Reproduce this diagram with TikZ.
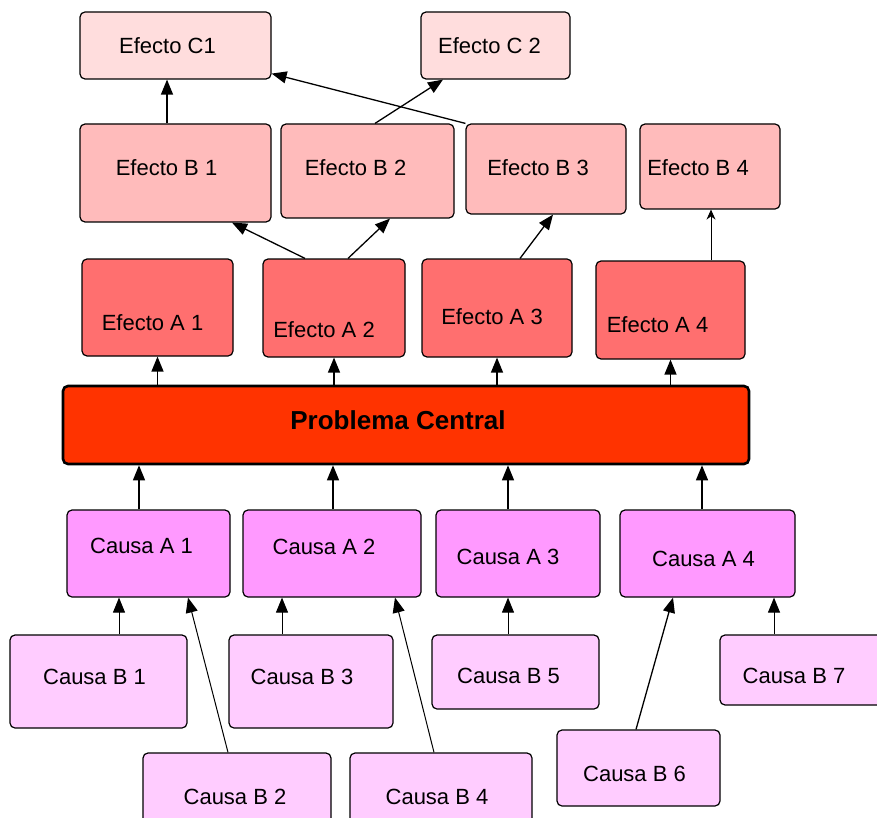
\documentclass[tikz,border=0pt]{standalone}
\usepackage{fontspec}
\setmainfont{Liberation Sans}
\usetikzlibrary{arrows.meta}
\definecolor{efC}{HTML}{FFDDDD}
\definecolor{efB}{HTML}{FFBBBB}
\definecolor{efA}{HTML}{FF6F6F}
\definecolor{probC}{HTML}{FF3300}
\definecolor{causA}{HTML}{FF99FF}
\definecolor{causB}{HTML}{FFCCFF}
\begin{document}
\begin{tikzpicture}[
    x=1pt, y=-1pt,
    box/.style={draw, line width=1.2pt, rounded corners=5pt, inner sep=0pt,
      font=\fontsize{22}{26}\selectfont},
    arr/.style={line width=1.3pt, -{Triangle[width=12pt,length=15pt]}},
    thinarr/.style={line width=1pt, -{Triangle[width=12pt,length=15pt]}},
  ]
  \clip (0,0) rectangle (877,818);
  \fill[white] (0,0) rectangle (877,818);
  % efectos C
  \node[box, fill=efC, minimum width=191, minimum height=67,
    label={[xshift=-8pt, font=\fontsize{22}{26}\selectfont]center:Efecto C1}] (ec1) at (175.5,45.5) {};
  \node[box, fill=efC, minimum width=149, minimum height=67,
    label={[xshift=-6pt, font=\fontsize{22}{26}\selectfont]center:Efecto C 2}] (ec2) at (495.5,45.5) {};
  % efectos B
  \node[box, fill=efB, minimum width=191, minimum height=98,
    label={[xshift=-9pt, yshift=5pt, font=\fontsize{22}{26}\selectfont]center:Efecto B 1}] (eb1) at (175.5,173) {};
  \node[box, fill=efB, minimum width=173, minimum height=94,
    label={[xshift=-12pt, yshift=3pt, font=\fontsize{22}{26}\selectfont]center:Efecto B 2}] (eb2) at (367.5,171) {};
  \node[box, fill=efB, minimum width=160, minimum height=90,
    label={[xshift=-8pt, yshift=1pt, font=\fontsize{22}{26}\selectfont]center:Efecto B 3}] (eb3) at (546,169) {};
  \node[box, fill=efB, minimum width=140, minimum height=85,
    label={[xshift=-12pt, yshift=-1pt, font=\fontsize{22}{26}\selectfont]center:Efecto B 4}] (eb4) at (710,166.5) {};
  % efectos A
  \node[box, fill=efA, minimum width=151, minimum height=97,
    label={[xshift=-5pt, yshift=-15pt, font=\fontsize{22}{26}\selectfont]center:Efecto A 1}] (ea1) at (157.5,307.5) {};
  \node[box, fill=efA, minimum width=142, minimum height=98,
    label={[xshift=-10pt, yshift=-22pt, font=\fontsize{22}{26}\selectfont]center:Efecto A 2}] (ea2) at (334,308) {};
  \node[box, fill=efA, minimum width=150, minimum height=98,
    label={[xshift=-5pt, yshift=-9pt, font=\fontsize{22}{26}\selectfont]center:Efecto A 3}] (ea3) at (497,308) {};
  \node[box, fill=efA, minimum width=149, minimum height=98,
    label={[xshift=-13pt, yshift=-15pt, font=\fontsize{22}{26}\selectfont]center:Efecto A 4}] (ea4) at (670.5,310) {};
  % problema
  \node[box, fill=probC, line width=2.6pt, minimum width=686, minimum height=78,
    label={[xshift=-8pt, yshift=5pt, font=\fontsize{26}{30}\selectfont\bfseries]center:Problema Central}] (pc) at (406,425) {};
  % causas A
  \node[box, fill=causA, minimum width=163, minimum height=87,
    label={[xshift=-7pt, yshift=8pt, font=\fontsize{22}{26}\selectfont]center:Causa A 1}] (ca1) at (148.5,553.5) {};
  \node[box, fill=causA, minimum width=178, minimum height=87,
    label={[xshift=-8pt, yshift=7pt, font=\fontsize{22}{26}\selectfont]center:Causa A 2}] (ca2) at (332,553.5) {};
  \node[box, fill=causA, minimum width=164, minimum height=87,
    label={[xshift=-10pt, yshift=-3pt, font=\fontsize{22}{26}\selectfont]center:Causa A 3}] (ca3) at (518,553.5) {};
  \node[box, fill=causA, minimum width=175, minimum height=87,
    label={[xshift=-4pt, yshift=-5pt, font=\fontsize{22}{26}\selectfont]center:Causa A 4}] (ca4) at (707.5,553.5) {};
  % causas B
  \node[box, fill=causB, minimum width=177, minimum height=93,
    label={[xshift=-4pt, yshift=5pt, font=\fontsize{22}{26}\selectfont]center:Causa B 1}] (cb1) at (98.5,681.5) {};
  \node[box, fill=causB, minimum width=188, minimum height=77,
    label={[xshift=-2pt, yshift=-5pt, font=\fontsize{22}{26}\selectfont]center:Causa B 2}] (cb2) at (237,791.5) {};
  \node[box, fill=causB, minimum width=164, minimum height=93,
    label={[xshift=-9pt, yshift=5pt, font=\fontsize{22}{26}\selectfont]center:Causa B 3}] (cb3) at (311,681.5) {};
  \node[box, fill=causB, minimum width=182, minimum height=77,
    label={[xshift=-4pt, yshift=-5pt, font=\fontsize{22}{26}\selectfont]center:Causa B 4}] (cb4) at (441,791.5) {};
  \node[box, fill=causB, minimum width=167, minimum height=74,
    label={[xshift=-7pt, yshift=-4pt, font=\fontsize{22}{26}\selectfont]center:Causa B 5}] (cb5) at (515.5,672) {};
  \node[box, fill=causB, minimum width=163, minimum height=76,
    label={[xshift=-4pt, yshift=-6pt, font=\fontsize{22}{26}\selectfont]center:Causa B 6}] (cb6) at (638.5,768) {};
  \node[box, fill=causB, minimum width=170, minimum height=70,
    label={[xshift=-11pt, yshift=-6pt, font=\fontsize{22}{26}\selectfont]center:Causa B 7}] (cb7) at (805,670) {};
  % efectos B -> C
  \draw[arr] ([xshift=-8.5pt]eb1.north) -- ([xshift=-8.5pt]ec1.south);
  \draw[arr] (eb3.north west) -- ([yshift=6pt]ec1.south east);
  \draw[arr] ([xshift=7.5pt]eb2.north) -- ([xshift=-52.5pt]ec2.south);
  % efectos A -> B
  \draw[arr] ([xshift=-29pt]ea2.north) -- ([xshift=56.5pt]eb1.south);
  \draw[arr] ([xshift=14pt]ea2.north) -- ([xshift=22.5pt]eb2.south);
  \draw[arr] ([xshift=23pt]ea3.north) -- ([xshift=7pt]eb3.south);
  \draw[line width=1pt, -{Stealth[width=9pt,length=10pt]}] ([xshift=40.5pt]ea4.north) -- ([xshift=1pt]eb4.south);
  % problema -> efectos A
  \draw[arr] (ea1.south |- pc.north) -- (ea1.south);
  \draw[arr] (ea2.south |- pc.north) -- (ea2.south);
  \draw[arr] (ea3.south |- pc.north) -- (ea3.south);
  \draw[arr] (ea4.south |- pc.north) -- (ea4.south);
  % causas A -> problema
  \draw[arr] ([xshift=-9.5pt]ca1.north) -- ([xshift=-267pt]pc.south);
  \draw[arr] ([xshift=1pt]ca2.north) -- ([xshift=-73pt]pc.south);
  \draw[arr] ([xshift=-10pt]ca3.north) -- ([xshift=102pt]pc.south);
  \draw[arr] ([xshift=-5.5pt]ca4.north) -- ([xshift=296pt]pc.south);
  % causas B -> A
  \draw[thinarr] ([xshift=20.5pt]cb1.north) -- ([xshift=-29.5pt]ca1.south);
  \draw[thinarr] ([xshift=-9pt]cb2.north) -- ([xshift=39.5pt]ca1.south);
  \draw[thinarr] ([xshift=-29pt]cb3.north) -- ([xshift=-50pt]ca2.south);
  \draw[thinarr] ([xshift=-7pt]cb4.north) -- ([xshift=63pt]ca2.south);
  \draw[thinarr] ([xshift=-7.5pt]cb5.north) -- ([xshift=-10pt]ca3.south);
  \draw[arr] ([xshift=-2.5pt]cb6.north) -- ([xshift=-34.5pt]ca4.south);
  \draw[thinarr] ([xshift=-31pt]cb7.north) -- ([xshift=66.5pt]ca4.south);
\end{tikzpicture}
\end{document}
